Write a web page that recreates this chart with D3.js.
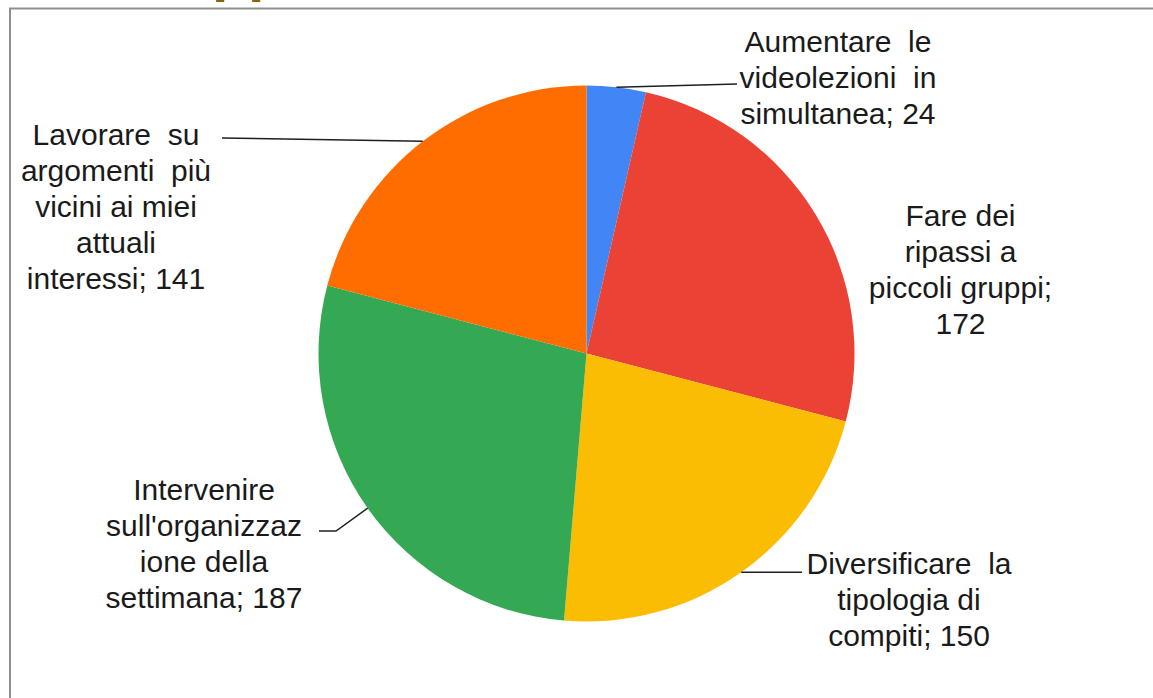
<!DOCTYPE html>
<html>
<head>
<meta charset="utf-8">
<script src="https://cdn.jsdelivr.net/npm/d3@7"></script>
<style>
  html, body { margin: 0; padding: 0; background: #fff; }
  svg { display: block; }
</style>
</head>
<body>
<svg id="chart"></svg>
<script>
const categories = [
    "Aumentare le videolezioni in simultanea",
    "Fare dei ripassi a piccoli gruppi",
    "Diversificare la tipologia di compiti",
    "Intervenire sull'organizzazione della settimana",
    "Lavorare su argomenti più vicini ai miei attuali interessi"
];
const values = [24, 172, 150, 187, 141];
const colors = ["#4285F4", "#EA4335", "#FBBC04", "#34A853", "#FF6D01"];

// wrapped label lines, as broken in the picture
const labelLines = [
    ["Aumentare  le", "videolezioni  in", "simultanea; 24"],
    ["Fare dei", "ripassi a", "piccoli gruppi;", "172"],
    ["Diversificare  la", "tipologia di", "compiti; 150"],
    ["Intervenire", "sull'organizzaz", "ione della", "settimana; 187"],
    ["Lavorare  su", "argomenti  più", "vicini ai miei", "attuali", "interessi; 141"]
];

const W = 1153, H = 698;
const cx = 586.5, cy = 353.5, r = 268;

// label box placement + leader line path (null = no leader)
const labelLayout = [
    {x: 838, y: 52, leader: [[737, 84]]},
    {x: 960.5, y: 226, leader: null},
    {x: 909, y: 574, leader: [[802, null]]},
    {x: 204, y: 500, leader: [[336, 531], [319, 531]]},
    {x: 116, y: 145, leader: [[222, 138]]}
];

const svg = d3.select("#chart")
    .attr("width", W)
    .attr("height", H);

svg.append("rect")
    .attr("width", W).attr("height", H)
    .attr("fill", "#fff");

// cut-off heading above the frame (only descenders visible)
svg.append("text")
    .attr("x", 212)
    .attr("y", -10)
    .attr("font-family", "Liberation Sans, Arial, sans-serif")
    .attr("font-weight", "bold")
    .attr("font-size", 59)
    .attr("fill", "#8C6508")
    .text("pp");

// frame
svg.append("path")
    .attr("d", `M10,${H} V8.5 H${W}`)
    .attr("fill", "none")
    .attr("stroke", "#8f8f8f")
    .attr("stroke-width", 2);

const pie = d3.pie().sort(null).value(d => d);
const arcs = pie(values);

const arc = d3.arc().innerRadius(0).outerRadius(r);
const edge = d3.arc().innerRadius(r).outerRadius(r);

const g = svg.append("g").attr("transform", `translate(${cx},${cy})`);

g.selectAll("path.slice")
    .data(arcs)
    .join("path")
    .attr("class", "slice")
    .attr("d", arc)
    .attr("fill", (d, i) => colors[i]);

// leader lines
arcs.forEach((d, i) => {
    const lay = labelLayout[i];
    if (!lay.leader) return;
    const [ex, ey] = edge.centroid(d);
    const pts = [[cx + ex, cy + ey]];
    lay.leader.forEach(p => pts.push([p[0], p[1] == null ? cy + ey : p[1]]));
    svg.append("path")
        .attr("d", d3.line()(pts))
        .attr("fill", "none")
        .attr("stroke", "#1f1f1f")
        .attr("stroke-width", 1.5);
});

// labels
const lineH = 36;
labelLines.forEach((lines, i) => {
    const lay = labelLayout[i];
    const t = svg.append("text")
        .attr("x", lay.x)
        .attr("y", lay.y)
        .attr("text-anchor", "middle")
        .attr("font-family", "Liberation Sans, Arial, sans-serif")
        .attr("font-size", 30)
        .attr("fill", "#1a1a1a")
        .style("white-space", "pre");
    lines.forEach((ln, k) => {
        t.append("tspan")
            .attr("x", lay.x)
            .attr("y", lay.y + k * lineH)
            .text(ln);
    });
});
</script>
</body>
</html>
